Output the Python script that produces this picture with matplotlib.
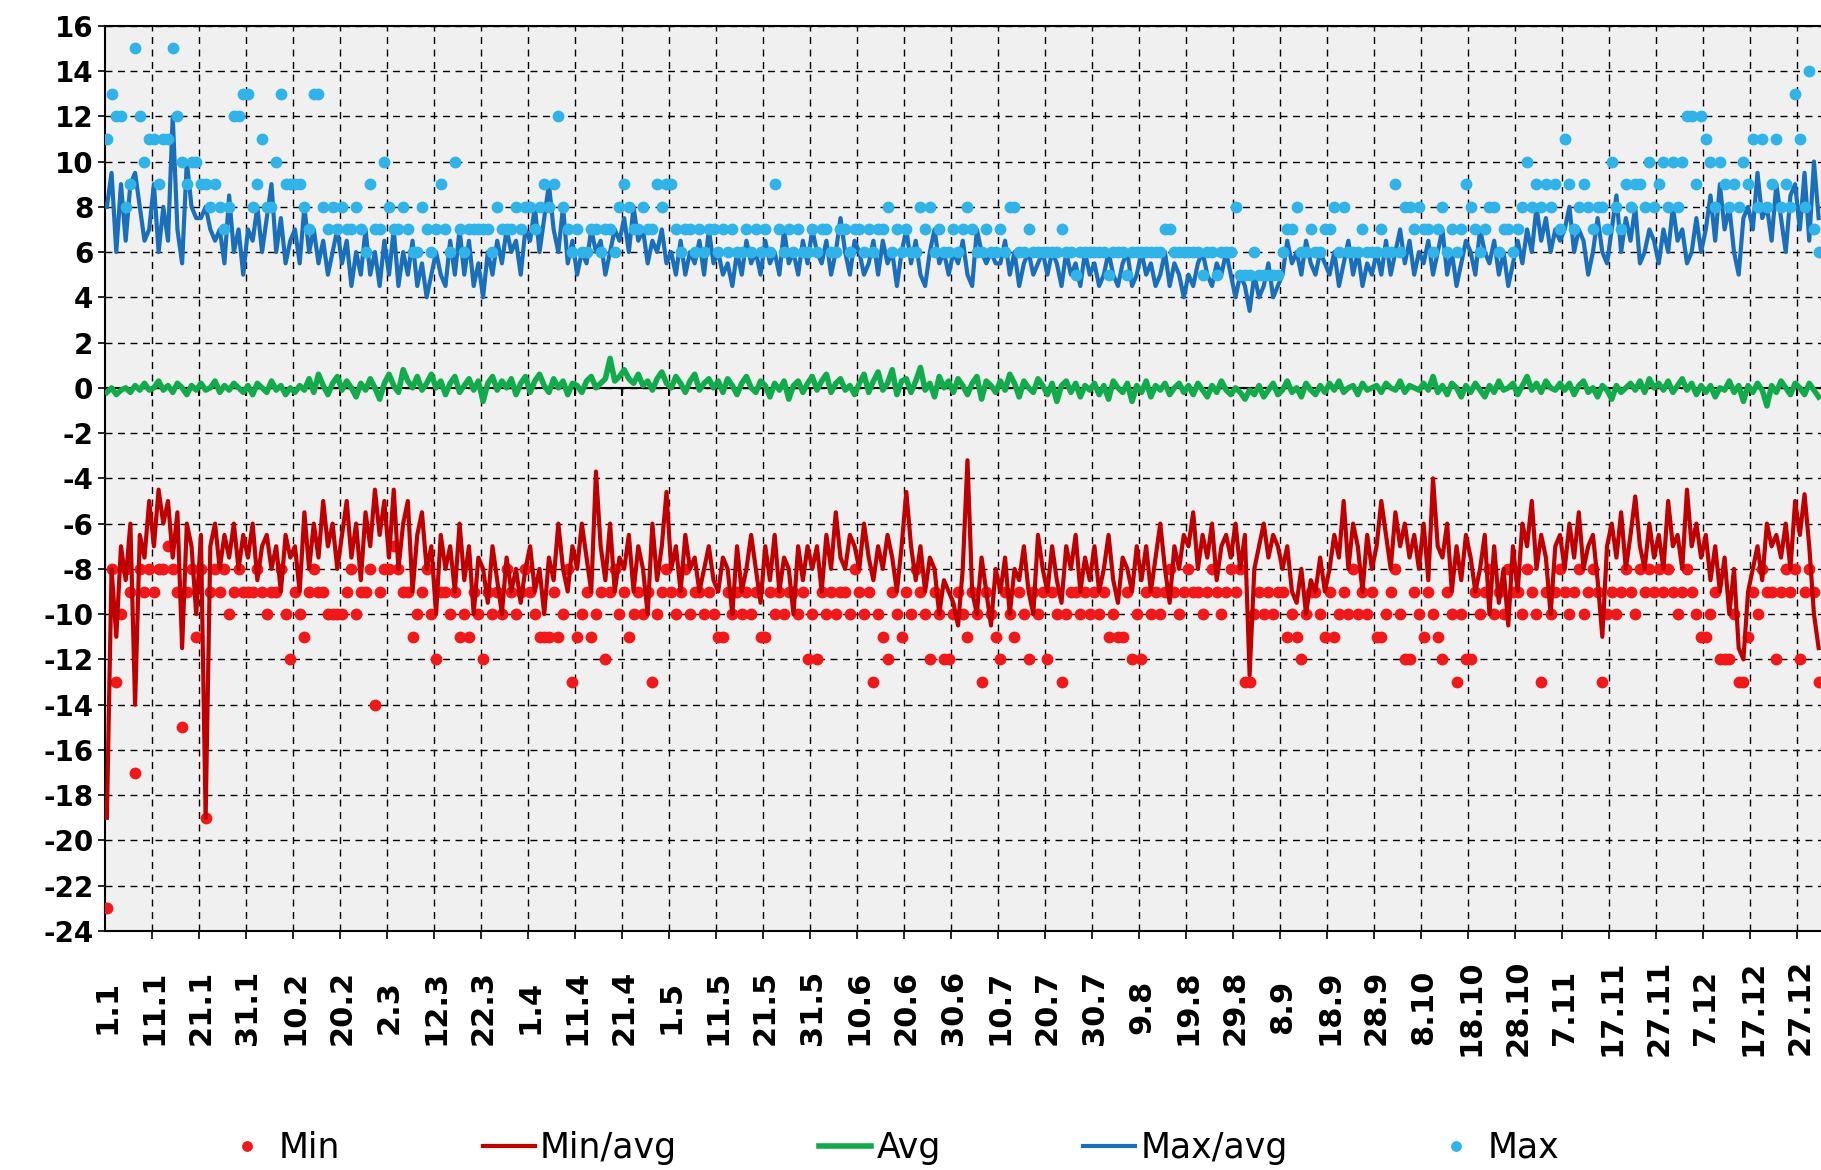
import numpy as np
import matplotlib
matplotlib.use("Agg")
import matplotlib.pyplot as plt
from matplotlib.ticker import MultipleLocator, FixedLocator

plt.rcParams['font.family'] = ['DejaVu Sans']
plt.rcParams['axes.unicode_minus'] = False

# daily values, 1.1 .. 31.12 (one row = 10 days)
max_pts = [
    11, 13, 12, 12, 8, 9, 15, 12, 10, 11,
    11, 9, 11, 11, 15, 12, 10, 9, 10, 10,
    9, 9, 8, 9, 8, 7, 8, 12, 12, 13,
    13, 8, 9, 11, 8, 8, 10, 13, 9, 9,
    9, 9, 8, 7, 13, 13, 8, 7, 8, 7,
    8, 7, 7, 8, 7, 6, 9, 7, 7, 10,
    8, 7, 7, 8, 7, 6, 6, 8, 7, 6,
    7, 9, 7, 6, 10, 7, 6, 7, 7, 7,
    7, 7, 6, 8, 7, 7, 7, 8, 7, 8,
    8, 7, 8, 9, 8, 9, 12, 8, 7, 6,
    7, 6, 6, 7, 7, 6, 7, 7, 6, 8,
    9, 8, 7, 7, 8, 7, 7, 9, 8, 9,
    9, 7, 6, 7, 7, 6, 7, 6, 7, 7,
    6, 7, 6, 7, 6, 6, 7, 6, 7, 6,
    7, 6, 9, 7, 6, 7, 6, 7, 6, 6,
    7, 6, 7, 7, 6, 6, 7, 7, 6, 7,
    7, 6, 7, 6, 7, 7, 8, 6, 7, 6,
    7, 6, 6, 8, 7, 8, 6, 7, 6, 6,
    7, 6, 7, 8, 7, 6, 6, 7, 6, 6,
    7, 6, 8, 8, 6, 6, 7, 6, 6, 6,
    6, 6, 6, 7, 6, 6, 5, 6, 6, 6,
    6, 6, 6, 5, 6, 6, 6, 5, 6, 6,
    6, 6, 6, 6, 6, 7, 7, 6, 6, 6,
    6, 6, 6, 5, 6, 6, 5, 6, 6, 6,
    8, 5, 5, 5, 6, 5, 5, 5, 5, 5,
    6, 7, 7, 8, 6, 6, 7, 6, 6, 7,
    7, 8, 6, 8, 6, 6, 6, 7, 6, 6,
    6, 7, 6, 6, 9, 6, 8, 8, 7, 8,
    7, 7, 6, 7, 8, 6, 7, 6, 7, 9,
    8, 7, 6, 7, 8, 8, 6, 7, 7, 6,
    7, 8, 10, 8, 9, 8, 9, 8, 9, 7,
    11, 9, 7, 8, 9, 8, 7, 8, 8, 7,
    10, 8, 7, 9, 8, 9, 9, 8, 10, 8,
    9, 10, 8, 10, 8, 10, 12, 12, 9, 12,
    11, 10, 8, 10, 9, 8, 9, 8, 10, 9,
    11, 8, 11, 8, 9, 11, 8, 9, 8, 13,
    11, 8, 14, 7, 6,
]

max_avg = [
    8, 9.5, 6, 9, 6.5, 9, 9.5, 8, 6.5, 7,
    9, 6, 8, 6.5, 12, 7, 5.5, 10, 8, 7.5,
    7.5, 8, 7, 6.5, 7, 5.5, 8.5, 6, 7, 5,
    7, 6.5, 8, 6, 7.5, 9, 6, 7.5, 5.5, 6.5,
    7, 5.5, 8, 6, 7, 5.5, 6.5, 5, 6, 7,
    5.5, 6.5, 4.5, 6, 5, 7, 5, 6, 4.5, 6.5,
    5, 7, 4.5, 6, 5, 6.5, 4.5, 5.5, 4, 5,
    6, 5, 4.5, 6.5, 5, 7, 5, 6.5, 4.5, 5.5,
    4, 6, 5, 6.5, 5.5, 7, 6, 6.5, 5, 7,
    6.5, 8, 6, 7.5, 9, 7, 6, 8, 5.5, 6.5,
    5, 6, 5.5, 7, 6, 6.5, 5, 6, 7, 6.5,
    7.5, 6, 8, 6.5, 7, 5.5, 6.5, 6, 7, 5.5,
    6, 5, 6.5, 5, 6, 5.5, 6.5, 5, 7, 5.5,
    6, 5, 5.5, 4.5, 6, 5, 6.5, 5.5, 6, 5,
    6.5, 5.5, 6, 5, 7, 5.5, 6, 5, 6.5, 5.5,
    7, 6, 5.5, 6.5, 5, 6, 7.5, 6, 5, 6.5,
    6, 5, 5.5, 6.5, 5, 6.5, 5.5, 6, 4.5, 6,
    7, 5.5, 6.5, 5, 4.5, 6, 7, 5.5, 6, 5,
    6, 5.5, 6.5, 5, 4.5, 7, 6, 5.5, 6, 5.5,
    5.5, 6.5, 5, 6, 4.5, 5.5, 6, 5, 5.5, 6,
    5, 6, 5.5, 4.5, 6, 5, 5.5, 4.5, 6, 5,
    5.5, 4.5, 5, 6, 5, 4.5, 5.5, 6, 4.5, 5,
    6, 5, 5.5, 4.5, 5, 6, 4.5, 5.5, 5, 4,
    5, 4.5, 5.5, 6, 5, 4.5, 5.5, 5, 6, 5,
    4, 5, 4.5, 3.4, 5, 4, 4.5, 5.5, 4, 4.5,
    5, 6.5, 5.5, 6, 5, 6.5, 5.5, 5, 6, 5.5,
    5, 6, 4.5, 5.5, 6.5, 5, 6, 4.5, 5.5, 5,
    6, 5, 6.5, 5, 6, 7, 5.5, 6.5, 5, 6,
    5.5, 6.5, 5, 6, 7, 5, 6, 4.5, 5.5, 6.5,
    6, 5, 7, 6, 5.5, 6.5, 5, 6, 4.5, 5.5,
    6.5, 5.5, 7, 6, 8, 6.5, 7.5, 6, 7, 6.5,
    7, 8, 6, 7, 6.5, 5, 6, 7.5, 6, 5.5,
    7, 8.5, 6, 7.5, 6.5, 8, 5.5, 6, 7, 6.5,
    5.5, 7, 6, 8, 6.5, 7, 5.5, 6, 7.5, 6,
    7, 8.5, 6.5, 9, 7, 8, 6, 5, 7.5, 8,
    7, 9.5, 7.5, 8, 6.5, 9, 7.5, 6, 8.5, 9,
    7, 9.5, 6.5, 10, 7.5,
]

avg = [
    -0.2, 0, -0.3, -0.1, 0, -0.2, 0.1, -0.1, 0.2, -0.1,
    0, 0.3, -0.1, 0.1, -0.2, 0.2, 0, -0.3, 0.1, -0.1,
    0.2, -0.1, 0, 0.3, -0.2, 0.1, -0.1, 0.2, 0, -0.2,
    0.1, -0.3, 0.2, 0, -0.2, 0.3, -0.1, 0.1, -0.3, 0,
    -0.2, 0.1, -0.1, 0.4, -0.2, 0.6, 0.1, -0.3, 0.2, 0.5,
    -0.1, 0.3, 0, -0.4, 0.2, -0.1, 0.4, 0, -0.5, 0.2,
    0.6, 0.1, -0.2, 0.8, 0.3, 0, 0.5, -0.1, 0.2, 0.6,
    0, 0.3, -0.3, 0.2, 0.5, -0.2, 0.1, 0.4, -0.1, 0.3,
    -0.6, 0.2, 0.5, -0.1, 0.3, 0, 0.4, -0.3, 0.2, 0.5,
    -0.2, 0.3, 0.6, 0.1, -0.2, 0.4, 0, 0.3, -0.3, 0.2,
    0.1, -0.2, 0.3, 0.5, 0, 0.2, 0.4, 1.3, 0.3, 0.5,
    0.8, 0.4, 0.2, 0.6, 0.1, 0.3, -0.1, 0.4, 0.7, 0.2,
    0, 0.5, 0.2, -0.2, 0.3, 0.6, -0.1, 0.2, 0.4, 0,
    0.3, -0.2, 0.4, 0.1, -0.3, 0.2, 0.5, 0, -0.2, 0.3,
    0.1, -0.4, 0.2, -0.1, 0.3, -0.5, 0.1, 0.3, -0.2, 0.2,
    0.5, -0.1, 0.3, 0.6, -0.2, 0.2, 0.4, -0.1, 0.1, -0.3,
    0.2, 0.6, -0.2, 0.3, 0.7, -0.1, 0.2, 0.8, -0.3, 0.3,
    0.4, -0.2, 0.3, 0.9, -0.1, 0.2, -0.4, 0.5, 0, 0.3,
    -0.2, 0.4, 0.1, -0.3, 0.2, 0.5, -0.5, 0.3, 0.1, -0.2,
    0.3, -0.1, 0.6, 0.2, -0.4, 0.3, 0, -0.2, 0.4, 0.1,
    -0.3, 0.2, -0.6, 0.1, 0.3, -0.2, 0.2, -0.4, 0.1, -0.1,
    0.2, -0.3, 0.1, -0.5, 0.3, 0, -0.2, 0.2, -0.6, 0.1,
    -0.2, 0.3, -0.4, 0.1, -0.1, 0.2, -0.3, 0, 0.2, -0.2,
    0.1, -0.3, 0.2, -0.1, -0.4, 0.1, -0.2, 0.3, -0.1, -0.3,
    0, -0.2, -0.5, -0.1, -0.3, 0.1, -0.4, -0.1, 0.2, -0.3,
    -0.1, 0.3, -0.2, 0, -0.4, 0.2, -0.1, -0.3, 0.1, -0.2,
    0.2, -0.1, 0.3, -0.2, 0, 0.1, -0.3, 0.2, -0.1, 0,
    0.1, -0.2, 0.2, 0, -0.1, 0.3, -0.2, 0.1, 0, -0.1,
    0.2, -0.1, 0.5, -0.2, 0.1, -0.3, 0.2, 0, -0.4, 0.1,
    -0.2, 0.2, -0.1, -0.4, 0.1, -0.2, 0.3, -0.1, 0, 0.2,
    -0.3, 0.1, 0.5, -0.1, 0.2, -0.2, 0.3, 0, -0.1, 0.2,
    -0.1, 0.2, -0.3, 0.1, 0.3, -0.2, 0, -0.4, 0.1, -0.1,
    -0.5, 0.1, -0.2, 0, 0.2, -0.1, 0.3, -0.2, 0.4, 0,
    0.2, -0.1, 0.3, -0.2, 0.1, 0.4, -0.1, 0.2, -0.3, 0.1,
    -0.2, 0.1, -0.4, 0, -0.1, 0.3, -0.2, 0.1, -0.6, 0.1,
    -0.2, 0.2, -0.1, -0.8, 0.1, -0.2, 0.3, 0, -0.3, 0.2,
    0, -0.3, 0.2, -0.1, -0.4,
]

min_avg = [
    -19, -8, -11, -7, -8.5, -6, -14, -6.5, -7.5, -5,
    -7, -4.5, -6, -5, -7.5, -5.5, -11.5, -6, -7, -10,
    -6.5, -19, -7, -6, -8, -6.5, -7.5, -6, -8, -6.5,
    -7.5, -6, -8.5, -7, -6.5, -8, -7, -9, -6.5, -7.5,
    -7, -9, -5.5, -8, -6, -7.5, -5, -7, -6, -8,
    -6.5, -5, -7.5, -6, -8.5, -5.5, -7, -4.5, -6.5, -5,
    -7.5, -4.5, -8, -6, -5, -9, -6.5, -5.5, -8, -7,
    -10, -6.5, -8, -7, -9, -6, -8.5, -7, -10, -7.5,
    -8, -9.5, -7, -8.5, -10, -7.5, -9, -8, -9.5, -8,
    -7, -9, -8, -10, -7.5, -8.5, -6, -8, -9, -7,
    -8, -6, -7.5, -9, -3.7, -7, -8.5, -6, -9, -7.5,
    -8, -6.5, -9, -7, -8, -10, -6, -8.5, -7, -4.6,
    -8, -7, -9, -6.5, -8, -7.5, -9, -8, -7, -8.5,
    -9, -7.5, -8, -10, -7, -9, -8, -6.5, -8, -9.5,
    -7, -8.5, -6.5, -9, -7.5, -8, -10, -7, -8.5, -7,
    -8, -7, -9, -6.5, -8, -5.5, -7.5, -8, -6.5, -7,
    -8, -6, -7.5, -8.5, -7, -8, -6.5, -7.5, -9, -7,
    -4.6, -7, -8.5, -7, -9, -7.5, -8, -10, -8.5, -9,
    -9.5, -10.5, -8, -3.2, -9, -10, -7.5, -9, -10.5, -8,
    -9, -7.5, -10, -8, -8.5, -7, -9, -10, -6.5, -8,
    -9, -7, -8.5, -9.5, -7, -8, -6.5, -9, -7.5, -8.5,
    -7, -9, -8, -6.5, -8.5, -9.5, -7.5, -8, -9, -7,
    -8.5, -7, -9, -7.5, -6, -8, -9.5, -7, -8, -6.5,
    -7, -5.5, -8, -6.5, -7.5, -6, -8.5, -7, -6.5, -7.5,
    -6, -8, -6.5, -12.7, -8, -7, -6, -7.5, -6.5, -7,
    -8, -7, -9, -9.5, -8, -10, -8.5, -9, -7.5, -9,
    -8, -6.5, -7.5, -5, -8, -6, -7, -9, -6.5, -8,
    -7, -5, -6.5, -8, -5.5, -7, -6, -7.5, -6.5, -8,
    -6, -8.5, -4, -7, -7.5, -6, -9, -7, -8.5, -6.5,
    -7.5, -9, -8, -6.5, -10, -7, -9.5, -8, -10.5, -7,
    -9, -6, -7, -5, -8, -6.5, -7.5, -10, -7, -6.5,
    -8, -6, -7.5, -5.5, -8, -7, -6.5, -8.5, -11, -7,
    -6, -7.5, -5.5, -8, -6.5, -4.8, -7, -8, -6, -7.5,
    -6.5, -8, -5, -7, -6.5, -8, -4.5, -7, -6, -7.5,
    -6.5, -8.5, -7, -9, -7.5, -10, -8, -11.5, -12, -9,
    -8, -7, -8.5, -6, -7, -6.5, -7.5, -6, -8, -5,
    -6.5, -4.7, -7, -10, -11.5,
]

min_pts = [
    -23, -8, -13, -10, -8, -9, -17, -8, -9, -8,
    -9, -8, -8, -7, -8, -9, -15, -9, -8, -11,
    -8, -19, -9, -8, -9, -8, -10, -9, -8, -9,
    -9, -9, -8, -9, -10, -9, -9, -8, -10, -12,
    -9, -10, -11, -9, -8, -9, -9, -10, -10, -10,
    -10, -9, -8, -10, -9, -9, -8, -14, -9, -8,
    -8, -7, -8, -9, -9, -11, -10, -9, -8, -10,
    -12, -9, -9, -10, -9, -11, -10, -11, -9, -10,
    -12, -9, -10, -9, -10, -8, -9, -10, -9, -8,
    -9, -10, -11, -11, -11, -9, -11, -10, -8, -13,
    -11, -10, -9, -11, -10, -9, -12, -9, -8, -10,
    -9, -11, -10, -9, -10, -9, -13, -10, -9, -8,
    -9, -10, -9, -8, -10, -9, -9, -10, -9, -10,
    -11, -11, -9, -10, -9, -10, -9, -10, -9, -11,
    -11, -9, -10, -9, -10, -9, -9, -10, -9, -12,
    -10, -12, -9, -10, -9, -10, -9, -9, -10, -8,
    -9, -10, -9, -13, -10, -11, -12, -9, -10, -11,
    -9, -10, -8, -9, -10, -12, -9, -10, -12, -12,
    -10, -9, -10, -11, -9, -10, -13, -9, -10, -11,
    -12, -9, -10, -11, -9, -10, -12, -9, -10, -9,
    -12, -9, -10, -13, -10, -9, -9, -10, -9, -10,
    -9, -10, -9, -11, -10, -11, -11, -9, -12, -10,
    -12, -9, -10, -9, -10, -9, -8, -9, -10, -9,
    -8, -9, -9, -10, -9, -8, -9, -10, -9, -8,
    -9, -8, -13, -13, -10, -9, -10, -9, -10, -9,
    -9, -11, -10, -11, -12, -10, -9, -9, -10, -11,
    -9, -11, -10, -9, -10, -8, -10, -9, -10, -9,
    -11, -11, -10, -9, -8, -10, -12, -12, -9, -10,
    -11, -9, -10, -11, -12, -9, -10, -13, -10, -12,
    -12, -9, -10, -9, -8, -10, -9, -10, -8, -9,
    -9, -10, -8, -9, -10, -13, -9, -10, -9, -8,
    -9, -10, -9, -8, -10, -9, -8, -9, -13, -10,
    -9, -10, -9, -8, -9, -10, -8, -9, -8, -9,
    -8, -9, -8, -9, -10, -9, -8, -9, -10, -11,
    -11, -10, -9, -12, -12, -12, -10, -13, -13, -11,
    -9, -10, -8, -9, -9, -12, -9, -8, -9, -8,
    -12, -9, -8, -9, -13,
]

tick_labels = ['1.1', '11.1', '21.1', '31.1', '10.2', '20.2', '2.3', '12.3', '22.3',
               '1.4', '11.4', '21.4', '1.5', '11.5', '21.5', '31.5', '10.6', '20.6',
               '30.6', '10.7', '20.7', '30.7', '9.8', '19.8', '29.8', '8.9', '18.9',
               '28.9', '8.10', '18.10', '28.10', '7.11', '17.11', '27.11', '7.12',
               '17.12', '27.12']

days = np.arange(len(avg))

fig = plt.figure(figsize=(18.21, 11.70), dpi=100)
ax = fig.add_axes([0.0574, 0.2043, 0.9426, 0.7737])
ax.set_facecolor('#f0f0f0')

ax.plot(days, min_pts, 'o', color='#f01818', ms=7.5, ls='none', label='Min', zorder=3)
ax.plot(days, min_avg, color='#c00000', lw=3, label='Min/avg', zorder=4)
ax.plot(days, avg, color='#12ab4c', lw=4, label='Avg', zorder=4)
ax.plot(days, max_avg, color='#1a6fbb', lw=3, label='Max/avg', zorder=4)
ax.plot(days, max_pts, 'o', color='#2fb3e8', ms=7.5, ls='none', label='Max', zorder=5)

ax.axhline(0, color='black', lw=1.5, zorder=2)

ax.set_xlim(-0.5, len(avg) - 0.5)
ax.set_ylim(-24, 16)
ax.yaxis.set_major_locator(MultipleLocator(2))

ax.set_xticks(np.arange(0, len(tick_labels) * 10, 10))
ax.set_xticklabels(tick_labels, rotation=90, fontsize=22, fontweight='bold')
for lab in ax.get_xticklabels():
    lab.set_va('center')
ax.tick_params(axis='x', which='major', length=0, pad=55)
grid_pos = np.arange(9.5, len(avg), 10)
ax.xaxis.set_minor_locator(FixedLocator(grid_pos))
ax.tick_params(axis='x', which='minor', length=6, width=1.2, color='black')
ax.tick_params(axis='y', length=5, width=1.2, pad=3, labelsize=20)
for lab in ax.get_yticklabels():
    lab.set_fontweight('bold')

ax.grid(True, axis='y', which='major', color='black', ls=(0, (5, 4)), lw=1)
ax.grid(True, axis='x', which='minor', color='black', ls=(0, (5, 4)), lw=1)
ax.vlines(grid_pos, -0.35, 0, color='black', lw=1.5, zorder=2)

for side in ['left', 'top', 'bottom']:
    ax.spines[side].set_color('black')
    ax.spines[side].set_linewidth(1.5)
ax.spines['right'].set_visible(False)

fig.legend(loc='center', bbox_to_anchor=(0.489, 0.019), ncol=5, frameon=False,
           fontsize=25, handlelength=1.5, handletextpad=0.15, columnspacing=4.1,
           markerscale=0.9)

fig.savefig('out.png', dpi=100)
